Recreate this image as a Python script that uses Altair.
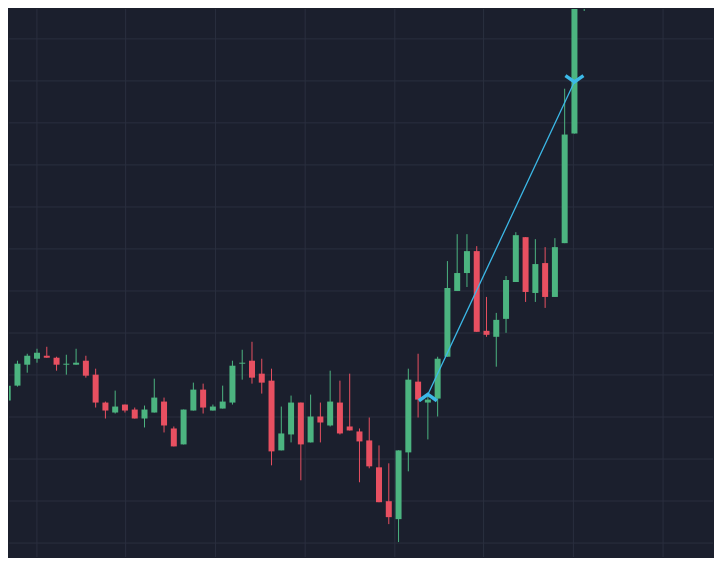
import altair as alt
import pandas as pd

# Candle index and OHLC values (arbitrary price units)
idx = list(range(60))
opens  = [199,214,235,241,244,242,235,235,239,225,197,187,195,190,181,187,198,171,155,189,
          210,189,191,197,236,239,226,219,149,165,197,157,183,174,197,173,168,159,132,98,
          80,147,218,197,201,243,309,327,349,269,263,281,318,363,307,337,303,357,467,610]
highs  = [215,239,246,251,253,243,245,251,244,231,198,209,195,192,194,221,202,173,190,217,
          216,195,214,239,250,258,241,231,193,204,197,205,197,229,219,226,171,182,154,136,
          149,231,246,204,243,339,366,366,354,303,287,324,368,363,361,353,362,512,650,680]
lows   = [178,213,227,237,242,229,225,235,222,192,181,186,187,181,172,187,167,153,155,189,
          186,189,191,195,220,216,206,134,149,157,119,157,157,173,165,169,117,131,97,75,
          57,128,182,160,183,243,309,313,268,263,233,267,318,298,298,292,303,357,467,590]
closes = [214,236,244,247,242,235,236,237,224,197,189,193,189,181,190,202,174,153,190,210,
          192,193,198,234,237,222,217,148,166,197,155,183,177,198,166,169,158,133,97,82,
          149,220,200,200,241,312,327,349,268,265,280,320,365,308,336,303,353,466,630,660]

# Trade: buy and sell points, and the connecting line
trade_idx = [43, 58]
trade_marker_price = [202, 522]
trade_line_price = [205, 519]
trade_side = ["buy", "sell"]

# Grid positions
x_grid = [2.99, 12.07, 21.26, 30.44, 39.62, 48.70, 57.89, 67.07]
y_grid = [562, 519.8, 477.7, 435.5, 393.3, 351.2, 309, 266.8, 224.7, 182.5, 140.3, 98.2, 56]

BG = "#1b1f2d"
GRID = "#2a2f3f"
UP = "#4cb480"
DOWN = "#e85061"
TRADE = "#3cb9e8"

df = pd.DataFrame({"i": idx, "open": opens, "high": highs, "low": lows, "close": closes})
df["dir"] = ["up" if c >= o else "down" for o, c in zip(opens, closes)]
trade = pd.DataFrame({"i": trade_idx, "pm": trade_marker_price, "pl": trade_line_price, "side": trade_side})

xs = alt.Scale(domain=[0.133, 72.18], nice=False, zero=False, padding=0)
ys = alt.Scale(domain=[42, 592], nice=False, zero=False, padding=0)
col = alt.Color("dir:N", scale=alt.Scale(domain=["up", "down"], range=[UP, DOWN]), legend=None)

xg = alt.Chart(pd.DataFrame({"g": x_grid})).mark_rule(color=GRID, strokeWidth=1).encode(
    x=alt.X("g:Q", scale=xs, axis=None))
yg = alt.Chart(pd.DataFrame({"g": y_grid})).mark_rule(color=GRID, strokeWidth=1).encode(
    y=alt.Y("g:Q", scale=ys, axis=None))

base = alt.Chart(df)
wicks = base.mark_rule(strokeWidth=1, clip=True).encode(
    x=alt.X("i:Q", scale=xs, axis=None),
    y=alt.Y("low:Q", scale=ys, axis=None),
    y2="high:Q",
    color=col,
)
bodies = base.mark_bar(size=6, clip=True).encode(
    x=alt.X("i:Q", scale=xs, axis=None),
    y=alt.Y("open:Q", scale=ys, axis=None),
    y2="close:Q",
    color=col,
)

line = alt.Chart(trade).mark_line(color=TRADE, strokeWidth=1.3).encode(
    x=alt.X("i:Q", scale=xs, axis=None),
    y=alt.Y("pl:Q", scale=ys, axis=None),
)
buy = alt.Chart(trade[trade.side == "buy"]).mark_point(
    shape="M-1,0.35L0,-0.35L1,0.35", filled=False, stroke=TRADE, strokeWidth=3.5,
    size=324, opacity=1).encode(
    x=alt.X("i:Q", scale=xs, axis=None),
    y=alt.Y("pm:Q", scale=ys, axis=None),
)
sell = alt.Chart(trade[trade.side == "sell"]).mark_point(
    shape="M-1,-0.35L0,0.35L1,-0.35", filled=False, stroke=TRADE, strokeWidth=3.5,
    size=324, opacity=1).encode(
    x=alt.X("i:Q", scale=xs, axis=None),
    y=alt.Y("pm:Q", scale=ys, axis=None),
)

chart = alt.layer(xg, yg, wicks, bodies, line, buy, sell).properties(
    width=706, height=550,
    autosize=alt.AutoSizeParams(type="fit", contains="padding"),
    padding=0,
    background=BG,
).configure_view(stroke=None, fill=BG)

chart.save("out.html", embed_options={"renderer": "svg", "actions": False})
